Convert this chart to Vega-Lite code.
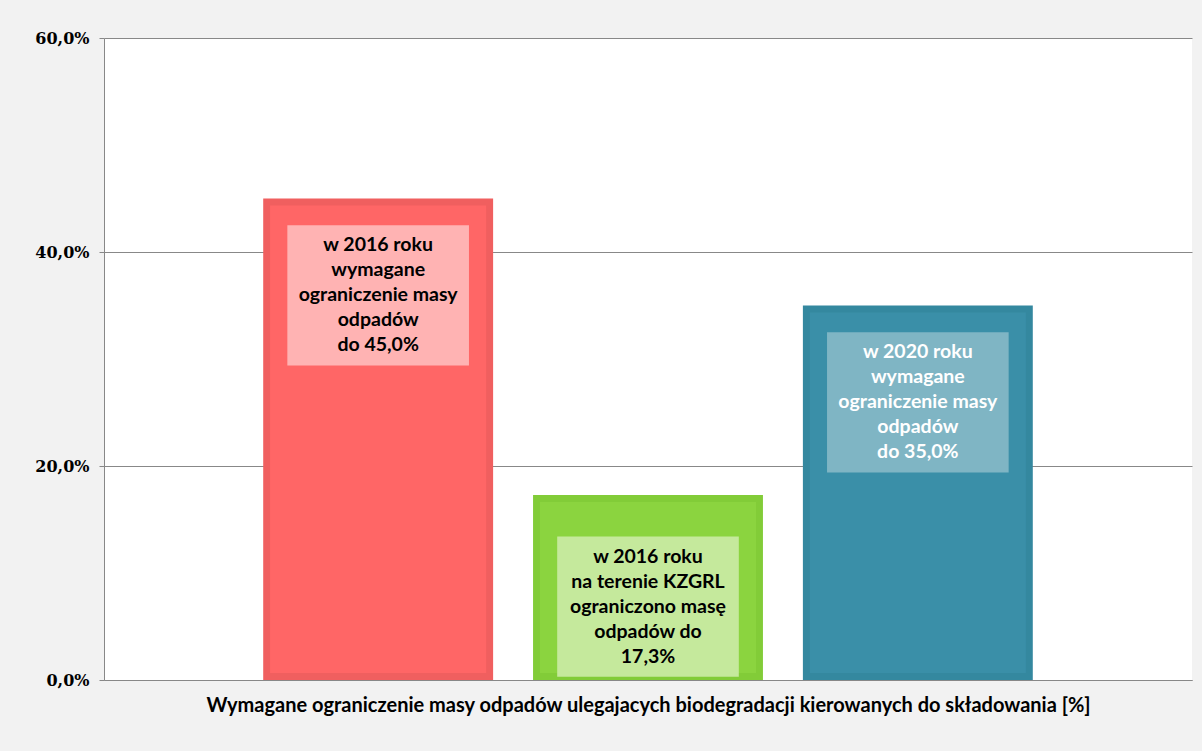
{
  "$schema": "https://vega.github.io/schema/vega-lite/v6.json",
  "width": 1088,
  "height": 642,
  "autosize": {"type": "none"},
  "padding": {"left": 104, "top": 38, "right": 10, "bottom": 71},
  "background": "#f2f2f2",
  "config": {
    "view": {"stroke": null, "fill": "#ffffff"},
    "axis": {"domainColor": "#888888", "gridColor": "#888888", "tickColor": "#888888"}
  },
  "data": {
    "values": [
      {"cat": "2016 wymagane", "value": 45.0, "label": ["w 2016 roku", "wymagane", "ograniczenie masy", "odpadów", "do 45,0%"]},
      {"cat": "2016 KZGRL", "value": 17.3, "label": ["w 2016 roku", "na terenie KZGRL", "ograniczono masę", "odpadów do", "17,3%"]},
      {"cat": "2020 wymagane", "value": 35.0, "label": ["w 2020 roku", "wymagane", "ograniczenie masy", "odpadów", " do 35,0%"]}
    ]
  },
  "transform": [
    {"calculate": "datum.value < 20 ? 13.4 : datum.value - 2.5", "as": "boxTop"},
    {"calculate": "datum.boxTop - 13.1", "as": "boxBottom"},
    {"calculate": "datum.boxTop - 6.55", "as": "boxMid"}
  ],
  "encoding": {
    "x": {
      "field": "cat",
      "type": "nominal",
      "sort": null,
      "scale": {"paddingInner": 0.148, "paddingOuter": 0.59},
      "axis": {
        "labels": false,
        "ticks": false,
        "domain": true,
        "title": "Wymagane ograniczenie masy odpadów ulegajacych biodegradacji kierowanych do składowania [%]",
        "titleFont": "Lato",
        "titleFontSize": 20,
        "titleFontWeight": "bold",
        "titleColor": "#000000",
        "titlePadding": 15
      }
    }
  },
  "layer": [
    {
      "mark": {"type": "bar", "stroke": null},
      "encoding": {
        "y": {
          "field": "value",
          "type": "quantitative",
          "stack": null,
          "scale": {"domain": [0, 60], "nice": false},
          "axis": {
            "values": [0, 20, 40, 60],
            "grid": true,
            "title": null,
            "tickSize": 5,
            "labelPadding": 10,
            "labelFont": "DejaVu Serif",
            "labelFontSize": 16,
            "labelFontWeight": "bold",
            "labelColor": "#000000",
            "labelExpr": "replace(format(datum.value, '.1f'), '.', ',') + '%'"
          }
        },
        "color": {
          "field": "cat",
          "type": "nominal",
          "legend": null,
          "scale": {"domain": ["2016 wymagane", "2016 KZGRL", "2020 wymagane"], "range": ["#f05f5f", "#82cc38", "#34889f"]}
        }
      }
    },
    {
      "mark": {"type": "bar", "width": {"band": 0.94}, "yOffset": 7, "y2Offset": -7},
      "encoding": {
        "y": {"field": "value", "type": "quantitative"},
        "y2": {"datum": 0},
        "color": {
          "field": "cat",
          "type": "nominal",
          "legend": null,
          "scale": {"domain": ["2016 wymagane", "2016 KZGRL", "2020 wymagane"], "range": ["#ff6666", "#8bd43f", "#3a8fa8"]}
        }
      }
    },
    {
      "mark": {"type": "bar", "width": {"band": 0.79}},
      "encoding": {
        "y": {"field": "boxTop", "type": "quantitative"},
        "y2": {"field": "boxBottom"},
        "color": {
          "field": "cat",
          "type": "nominal",
          "legend": null,
          "scale": {"domain": ["2016 wymagane", "2016 KZGRL", "2020 wymagane"], "range": ["#ffb3b3", "#c5e99c", "#7fb5c4"]}
        }
      }
    },
    {
      "mark": {"type": "text", "font": "Lato", "fontSize": 19.5, "fontWeight": "bold", "lineHeight": 25, "baseline": "middle", "align": "center", "dy": -50},
      "encoding": {
        "y": {"field": "boxMid", "type": "quantitative"},
        "text": {"field": "label"},
        "color": {
          "field": "cat",
          "type": "nominal",
          "legend": null,
          "scale": {"domain": ["2016 wymagane", "2016 KZGRL", "2020 wymagane"], "range": ["#000000", "#000000", "#ffffff"]}
        }
      }
    }
  ],
  "resolve": {"scale": {"color": "independent"}}
}
